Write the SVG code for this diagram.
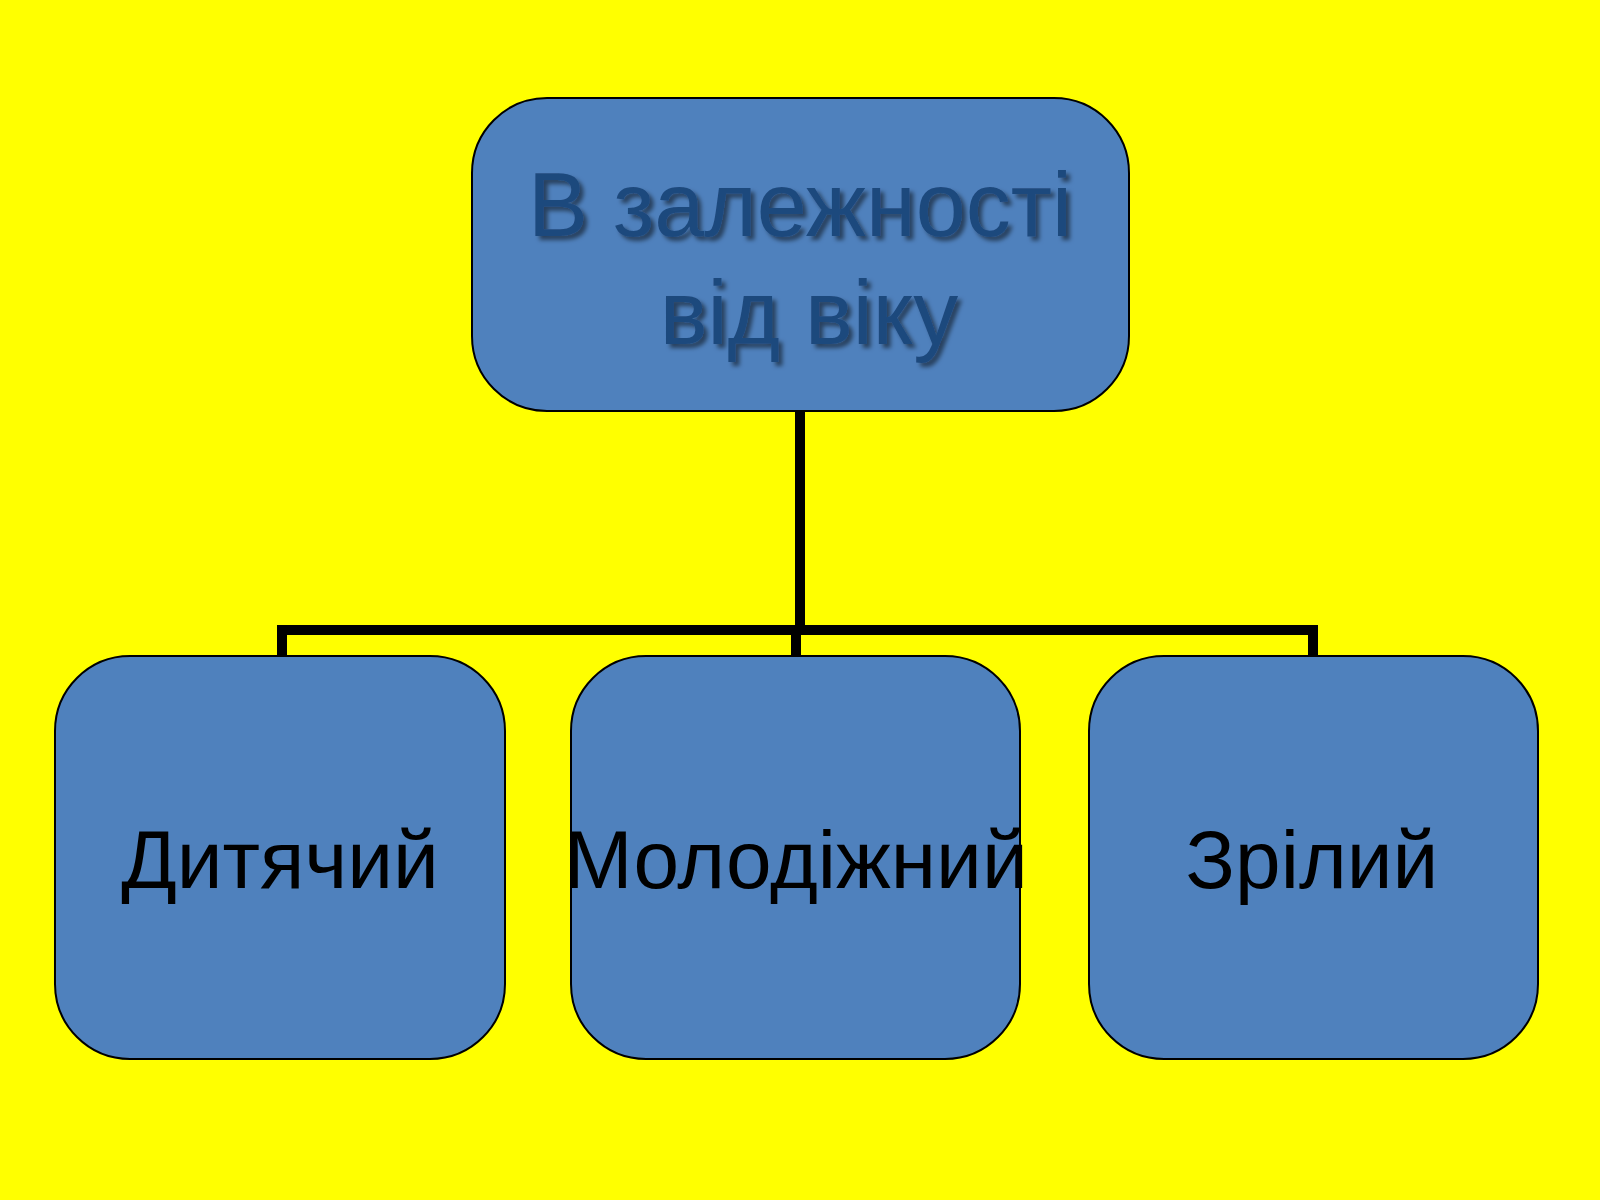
<svg xmlns="http://www.w3.org/2000/svg" width="1600" height="1200" viewBox="0 0 1600 1200">
<defs>
<filter id="sh" x="-10%" y="-10%" width="120%" height="130%"><feDropShadow dx="4" dy="4" stdDeviation="2" flood-color="#000" flood-opacity="0.5"/></filter>
<style>
.box{fill:#4f81bd;stroke:#000;stroke-width:2}
.t{font-family:"Liberation Sans",Arial,sans-serif;text-anchor:middle}
.top{font-size:90px;fill:#1f497d;filter:url(#sh)}
.b{font-size:82px;fill:#000}
.c{stroke:#000;stroke-width:10;fill:none}
</style></defs>
<rect width="1600" height="1200" fill="#ffff00"/>
<g id="connectors">
<path class="c" d="M800 411V630M282 630H1313M282 625V656M796 630V656M1313 625V656"/>
</g>
<g id="root">
<rect class="box" x="472" y="98" width="657" height="313" rx="75"/>
<text class="t top" x="800" y="236">В залежності</text>
<text class="t top" x="809" y="344">від віку</text>
</g>
<g id="n1"><rect class="box" x="55" y="656" width="450" height="403" rx="75"/><text class="t b" x="280" y="888">Дитячий</text></g>
<g id="n2"><rect class="box" x="571" y="656" width="449" height="403" rx="75"/><text class="t b" x="796" y="888">Молодіжний</text></g>
<g id="n3"><rect class="box" x="1089" y="656" width="449" height="403" rx="75"/><text class="t b" x="1312" y="888">Зрілий</text></g>
</svg>
